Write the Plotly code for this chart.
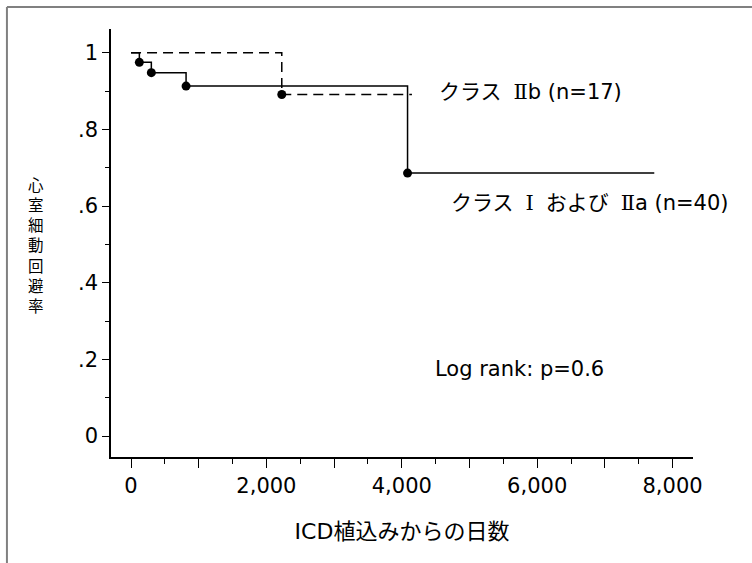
import plotly.graph_objects as go

# Class I and IIa (n=40) — solid line
days_a = [0, 123, 300, 813, 4085, 7730]
surv_a = [1.0, 0.975, 0.948, 0.913, 0.686, 0.686]
event_days_a = [123, 300, 813, 4085]
event_surv_a = [0.975, 0.948, 0.913, 0.686]

# Class IIb (n=17) — dashed line
days_b = [0, 2227, 4150]
surv_b = [1.0, 0.891, 0.891]
event_days_b = [2227]
event_surv_b = [0.891]

y_tickvals = [0, 0.2, 0.4, 0.6, 0.8, 1.0]
y_ticktext = ["0", ".2", ".4", ".6", ".8", "1"]
x_tickvals = [0, 1000, 2000, 3000, 4000, 5000, 6000, 7000, 8000]
x_ticktext = ["0", "", "2,000", "", "4,000", "", "6,000", "", "8,000"]

NUM = "<span style=\"font-family:DejaVu Serif\">{}</span>"
SP = "\u2005"  # quarter-em space to mimic full-width numerals
label_b = "クラス " + SP + NUM.format("Ⅱ") + "b (n=17)"
label_a = ("クラス " + SP + NUM.format("Ⅰ") + SP + " および " + SP
           + NUM.format("Ⅱ") + "a (n=40)")
label_p = "Log rank: p=0.6"
x_title = "ICD植込みからの日数"
y_title = "心室細動回避率"

FONT = "DejaVu Sans, Noto Sans CJK JP, sans-serif"

fig = go.Figure()
fig.add_trace(go.Scatter(x=days_b, y=surv_b, mode="lines", line_shape="hv",
                         line=dict(color="black", width=1.5, dash="10px,6px"),
                         hoverinfo="skip", showlegend=False))
fig.add_trace(go.Scatter(x=days_a, y=surv_a, mode="lines", line_shape="hv",
                         line=dict(color="black", width=1.5),
                         hoverinfo="skip", showlegend=False))
fig.add_trace(go.Scatter(x=event_days_a + event_days_b, y=event_surv_a + event_surv_b,
                         mode="markers", marker=dict(color="black", size=9),
                         showlegend=False))

fig.add_annotation(x=4523, y=0.897, xref="x", yref="y", text=label_b, showarrow=False,
                   xanchor="left", yanchor="middle", font=dict(size=21, color="black", family=FONT))
fig.add_annotation(x=4704, y=0.607, xref="x", yref="y", text=label_a, showarrow=False,
                   xanchor="left", yanchor="middle", font=dict(size=21, color="black", family=FONT))
fig.add_annotation(x=4463, y=0.174, xref="x", yref="y", text=label_p, showarrow=False,
                   xanchor="left", yanchor="middle", font=dict(size=21, color="black", family=FONT))

# stacked vertical y-axis title
fig.add_annotation(x=-0.129, y=0.497, xref="paper", yref="paper",
                   text="<br>".join(list(y_title)), showarrow=False,
                   xanchor="center", yanchor="middle",
                   font=dict(size=15.5, color="black", family="Noto Sans CJK JP"))

# outer frame (top and left edges)
fig.add_shape(type="line", xref="paper", yref="paper", x0=-0.1788, x1=1.11, y0=1.0514, y1=1.0514,
              line=dict(color="#808080", width=2))
fig.add_shape(type="line", xref="paper", yref="paper", x0=-0.1788, x1=-0.1788, y0=1.0514, y1=-0.26,
              line=dict(color="#808080", width=2))

fig.update_layout(
    width=752, height=563,
    margin=dict(l=111, r=59.3, t=29, b=106.3),
    paper_bgcolor="white", plot_bgcolor="white",
    font=dict(family=FONT, size=21, color="black"),
)
fig.update_xaxes(range=[-296, 8302], showgrid=False, zeroline=False,
                 showline=True, linecolor="black", linewidth=1.5,
                 tickmode="array", tickvals=x_tickvals, ticktext=x_ticktext,
                 ticks="outside", ticklen=9, tickwidth=1.2, tickcolor="black",
                 minor=dict(dtick=500, tick0=0, ticks="outside", ticklen=5, tickwidth=1.2, tickcolor="black"),
                 tickfont=dict(size=21),
                 title=dict(text=x_title, font=dict(size=22), standoff=27))
fig.update_yaxes(range=[-0.0548, 1.062], showgrid=False, zeroline=False,
                 showline=True, linecolor="black", linewidth=1.5,
                 tickmode="array", tickvals=y_tickvals, ticktext=y_ticktext,
                 ticks="outside", ticklen=7, tickwidth=1.2, tickcolor="black",
                 minor=dict(dtick=0.1, tick0=0, ticks="outside", ticklen=4, tickwidth=1.2, tickcolor="black"),
                 tickfont=dict(size=21))

fig.write_html("out.html", config={"displayModeBar": False},
               post_script="document.body.style.margin='0';")
